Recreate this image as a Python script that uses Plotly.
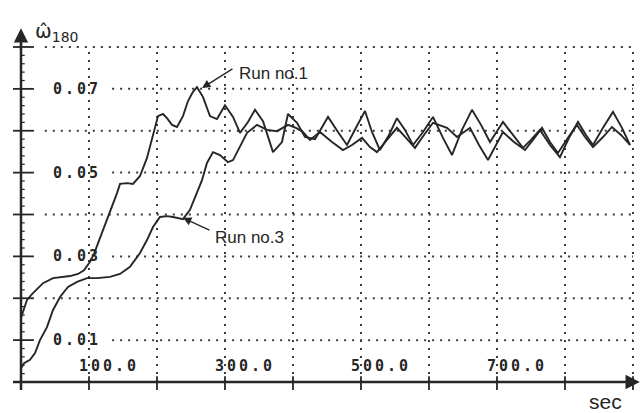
import plotly.graph_objects as go

# ---- data ----
run1_t = [0, 2.9, 8.8, 16.2, 25.0, 32.4, 47.1, 60.3, 72.1, 83.8, 92.6, 101.5, 107.4, 111.8,
          120.6, 130.9, 141.2, 145.6, 155.9, 164.7, 175.0, 185.3, 194.1, 201.5, 208.8, 214.7,
          222.1, 229.4, 238.2, 245.6, 252.9, 258.8, 267.6, 277.9, 288.2, 300.0, 311.8, 322.1,
          333.8, 344.1, 355.9, 370.6, 383.8, 392.6, 405.9, 417.6, 432.4, 451.5, 466.2, 479.4,
          492.6, 505.9, 516.2, 527.9, 541.2, 552.9, 564.7, 576.5, 591.2, 605.9, 620.6, 633.8,
          648.5, 663.2, 676.5, 689.7, 700.0, 708.8, 723.5, 738.2, 750.0, 763.2, 777.9, 792.6,
          805.9, 819.1, 830.9, 841.2, 855.9, 870.6, 883.8, 895.6]
run1_w = [0.0153, 0.0167, 0.0196, 0.0210, 0.0224, 0.0236, 0.0248, 0.0251, 0.0253, 0.0258, 0.0267,
          0.0287, 0.0306, 0.0325, 0.0363, 0.0404, 0.0451, 0.0473, 0.0475, 0.0473, 0.0492, 0.0535,
          0.0590, 0.0635, 0.0640, 0.0630, 0.0614, 0.0609, 0.0635, 0.0671, 0.0693, 0.0704, 0.0681,
          0.0635, 0.0628, 0.0661, 0.0633, 0.0595, 0.0621, 0.0650, 0.0623, 0.0549, 0.0573, 0.0640,
          0.0619, 0.0585, 0.0580, 0.0633, 0.0597, 0.0566, 0.0607, 0.0647, 0.0597, 0.0554, 0.0590,
          0.0630, 0.0602, 0.0566, 0.0597, 0.0633, 0.0583, 0.0542, 0.0602, 0.0650, 0.0614, 0.0573,
          0.0599, 0.0621, 0.0590, 0.0559, 0.0578, 0.0602, 0.0566, 0.0537, 0.0583, 0.0621, 0.0590,
          0.0566, 0.0607, 0.0645, 0.0607, 0.0566]

run3_t = [0, 4.4, 13.2, 20.6, 27.9, 38.2, 47.1, 57.4, 69.1, 82.4, 97.1, 111.8, 130.9, 145.6,
          160.3, 175.0, 185.3, 194.1, 204.4, 214.7, 223.5, 238.2, 248.5, 258.8, 266.2, 273.5,
          282.4, 292.6, 304.4, 311.8, 322.1, 332.4, 347.1, 361.8, 376.5, 392.6, 404.4, 414.7,
          425.0, 439.7, 457.4, 473.5, 486.8, 501.5, 513.2, 523.5, 538.2, 552.9, 566.2, 579.4,
          592.6, 605.9, 626.5, 641.2, 660.3, 673.5, 686.8, 698.5, 708.8, 725.0, 741.2, 752.9,
          766.2, 777.9, 789.7, 804.4, 817.6, 829.4, 841.2, 855.9, 869.1, 882.4, 895.6]
run3_w = [0.0033, 0.0045, 0.0053, 0.0069, 0.0100, 0.0131, 0.0172, 0.0203, 0.0227, 0.0239, 0.0248,
          0.0248, 0.0251, 0.0258, 0.0275, 0.0308, 0.0339, 0.0370, 0.0394, 0.0396, 0.0394, 0.0389,
          0.0411, 0.0451, 0.0482, 0.0523, 0.0549, 0.0542, 0.0525, 0.0530, 0.0561, 0.0595, 0.0614,
          0.0602, 0.0599, 0.0614, 0.0607, 0.0597, 0.0578, 0.0597, 0.0573, 0.0554, 0.0566, 0.0583,
          0.0561, 0.0549, 0.0578, 0.0607, 0.0583, 0.0559, 0.0590, 0.0619, 0.0607, 0.0585, 0.0607,
          0.0566, 0.0530, 0.0566, 0.0597, 0.0573, 0.0554, 0.0578, 0.0607, 0.0573, 0.0547, 0.0583,
          0.0614, 0.0585, 0.0561, 0.0585, 0.0609, 0.0590, 0.0566]

x_grid = [100, 200, 300, 400, 500, 600, 700, 800, 900]
y_grid = [0.01, 0.02, 0.03, 0.04, 0.05, 0.06, 0.07, 0.08]
x_labels = ["100.0", "300.0", "500.0", "700.0"]
x_label_vals = [100, 300, 500, 700]
y_labels = ["0.07", "0.05", "0.03", "0.01"]
y_label_vals = [0.07, 0.05, 0.03, 0.01]

INK = "#262626"
GRID = "#3a3a3a"

fig = go.Figure()
fig.add_trace(go.Scatter(x=run1_t, y=run1_w, mode="lines", name="Run no.1",
                         line=dict(color=INK, width=1.9)))
fig.add_trace(go.Scatter(x=run3_t, y=run3_w, mode="lines", name="Run no.3",
                         line=dict(color=INK, width=1.9)))

shapes = []
# dotted grid
for gx in x_grid:
    shapes.append(dict(type="line", xref="x", yref="y", x0=gx, x1=gx, y0=0, y1=0.08,
                       line=dict(color=GRID, width=2, dash="2px,6px"), layer="below"))
for gy in y_grid:
    start = 134 if gy in y_label_vals else 35
    shapes.append(dict(type="line", xref="x", yref="y", x0=start, x1=900, y0=gy, y1=gy,
                       line=dict(color=GRID, width=2, dash="2px,6px"), layer="below"))
# axis lines
shapes.append(dict(type="line", xref="x", yref="y", x0=0, x1=0, y0=-0.0019, y1=0.081,
                   line=dict(color=INK, width=2.5)))
shapes.append(dict(type="line", xref="x", yref="y", x0=-11.8, x1=900, y0=0, y1=0,
                   line=dict(color=INK, width=2.5)))
# y major ticks (crossing)
for gy in y_grid:
    shapes.append(dict(type="line", xref="x", yref="y", x0=-11.8, x1=19, y0=gy, y1=gy,
                       line=dict(color=INK, width=1.8)))
# y minor ticks
for k in range(1, 42):
    v = k * 0.002
    if k % 5 == 0:
        continue
    shapes.append(dict(type="line", xref="x", yref="y", x0=0, x1=5.5, y0=v, y1=v,
                       line=dict(color=INK, width=1.2)))
# x ticks (crossing)
for gx in x_grid:
    shapes.append(dict(type="line", xref="x", yref="y", x0=gx, x1=gx, y0=-0.0019, y1=0.0014,
                       line=dict(color=INK, width=1.8)))

ann = []
MONO = "DejaVu Sans Mono"
for lab, v in zip(x_labels, x_label_vals):
    ann.append(dict(x=v + 30, y=0.0038, xref="x", yref="y", showarrow=False,
                    text='<span style="letter-spacing:3px">' + lab + '</span>',
                    font=dict(family=MONO, size=15, color=INK, weight="bold"),
                    xanchor="center", yanchor="middle"))
for lab, v in zip(y_labels, y_label_vals):
    ann.append(dict(x=82, y=v, xref="x", yref="y", showarrow=False,
                    text='<span style="letter-spacing:3px">' + lab + '</span>',
                    font=dict(family=MONO, size=15, color=INK, weight="bold"),
                    xanchor="center", yanchor="middle"))
# axis arrows
ann.append(dict(x=0, y=0.0845, ax=0, ay=0.079, xref="x", yref="y", axref="x", ayref="y",
                showarrow=True, arrowhead=2, arrowsize=1.3, arrowwidth=2.2, arrowcolor=INK, text=""))
ann.append(dict(x=910, y=0, ax=895, ay=0, xref="x", yref="y", axref="x", ayref="y",
                showarrow=True, arrowhead=2, arrowsize=1.3, arrowwidth=2.2, arrowcolor=INK, text=""))
# series labels with arrows
ann.append(dict(x=266.2, y=0.0702, ax=313.2, ay=0.0750, xref="x", yref="y", axref="x", ayref="y",
                showarrow=True, arrowhead=2, arrowsize=1.2, arrowwidth=1.4, arrowcolor=INK, text=""))
ann.append(dict(x=317.6, y=0.0736, xref="x", yref="y", showarrow=False, text="Run no.1",
                font=dict(family="Liberation Sans", size=17, color=INK),
                xanchor="left", yanchor="middle"))
ann.append(dict(x=238.2, y=0.0392, ax=279.4, ay=0.0361, xref="x", yref="y", axref="x", ayref="y",
                showarrow=True, arrowhead=2, arrowsize=1.2, arrowwidth=1.4, arrowcolor=INK, text=""))
ann.append(dict(x=282.4, y=0.0346, xref="x", yref="y", showarrow=False, text="Run no.3",
                font=dict(family="Liberation Sans", size=17, color=INK),
                xanchor="left", yanchor="middle"))
# axis titles
ann.append(dict(x=17.6, y=0.0835, xref="x", yref="y", showarrow=False,
                text="\u03c9\u0302<sub>180</sub>",
                font=dict(family="DejaVu Sans", size=20, color=INK),
                xanchor="left", yanchor="middle"))
ann.append(dict(x=860, y=-0.0046, xref="x", yref="y", showarrow=False, text="sec",
                font=dict(family="Liberation Sans", size=21, color=INK),
                xanchor="center", yanchor="middle"))

fig.update_layout(
    width=641, height=413,
    margin=dict(l=5, r=0, t=0, b=0),
    paper_bgcolor="white", plot_bgcolor="white",
    showlegend=False,
    xaxis=dict(range=[-23.53, 911.8], visible=False),
    yaxis=dict(range=[-0.0074, 0.09122], visible=False),
    shapes=shapes, annotations=ann,
)
fig.write_html("out.html")
